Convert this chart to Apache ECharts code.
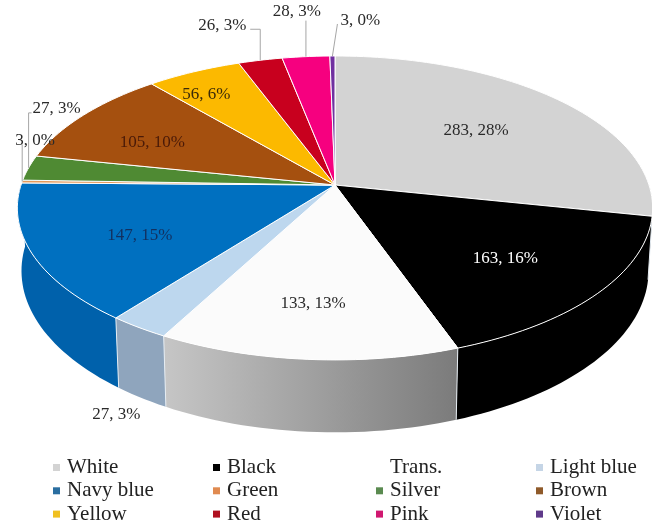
<!DOCTYPE html>
<html><head><meta charset="utf-8">
<style>html,body{margin:0;padding:0;background:#fff}#c{width:652px;height:527px}</style>
<script src="https://cdn.jsdelivr.net/npm/echarts@6/dist/echarts.min.js"></script>
</head><body><div id="c"></div>
<script>
const categories = ['White','Black','Trans.','Light blue','Navy blue','Green','Silver','Brown','Yellow','Red','Pink','Violet'];
const values = [283,163,133,27,147,3,27,105,56,26,28,3];
const topColors = ['#d3d3d3','#000000','#fbfbfb','#bdd7ee','#0070c0','#e59a5c','#4f8a33','#a5500f','#fcb900','#c8001e','#f6007f','#7030a0'];
const wallColors = ['#a9a9a9','#000000',null,'#8fa5bd','#0061ab','#b87a48','#3f6e29','#84400c','#ca9400','#a00018','#c50066','#5a2680'];
const legendColors = ['#d3d3d3','#000000','#ffffff','#c5d5e6','#2a6ea0','#e08a50','#5a8a50','#8f5a2a','#f0c020','#b01020','#d01870','#5f3a8a'];
const labelColors = ['#2a2a2a','#ffffff','#2a2a2a','#2a2a2a','#12305f','#2a2a2a','#2a2a2a','#4a1a08','#3a2a08','#2a2a2a','#2a2a2a','#2a2a2a'];
const legendColumns = [[0,4,8],[1,5,9],[2,6,10],[3,7,11]];

/* layout of the tilted disc */
const CX=335, CY=185, RX=314, RY=148.5, K=0.151, DEPTH=61.5, SHRINK=0.987;
/* label placement relative to the slice's computed anchor (px) */
const labelOffset = [[-8,3],[6,6],[-5,12],[-25,17],[-3,7],[13,-41],[28,-59],[-15,4],[-33,-14],[-38,-35],[-9,-45],[28,-35]];
const labelOnRim = [false,false,false,true,false,true,true,false,false,true,true,true];
const leaders = {5:[[0,-37]],6:[[0,-55],[3,-55]],9:[[0,-31],[-10,-31]],10:[[0,-36]],11:[[5,-32]]};

const total = values.reduce((a,b)=>a+b,0);
const starts = []; values.reduce((a,v,i)=>{starts[i]=a;return a+v;},0);
const rad = d=>d*Math.PI/180;
function project(deg,r){
  const X=r*Math.sin(rad(deg)), Y=-r*Math.cos(rad(deg)), w=1-K*Y;
  return {x:CX+RX*X/w, y:CY+RY*Y/w, w};
}
function bottom(deg){
  const p=project(deg,1);
  return [CX+(p.x-CX)*SHRINK, p.y+DEPTH/p.w];
}
function arc(a0,a1){
  const n=Math.max(2,Math.ceil((a1-a0)/1.5)), out=[];
  for(let i=0;i<=n;i++) out.push(a0+(a1-a0)*i/n);
  return out;
}
function renderSlice(i){
  return function(params,api){
    const v=api.value(0);
    const a0=starts[i]/total*360, a1=a0+v/total*360, mid=(a0+a1)/2;
    const children=[];
    const w0=Math.max(a0,90), w1=Math.min(a1,270);
    if(w1>w0){
      const as=arc(w0,w1);
      const pts=as.map(d=>{const p=project(d,1);return [p.x,p.y];}).concat(as.slice().reverse().map(bottom));
      const fill = wallColors[i]===null
        ? new echarts.graphic.LinearGradient(0,0,1,0,[{offset:0,color:'#c6c6c6'},{offset:1,color:'#7b7b7b'}])
        : wallColors[i];
      children.push({type:'polygon',z2:1,silent:true,shape:{points:pts},style:{fill}});
      if(w0===a0){
        const p=project(a0,1);
        children.push({type:'polyline',z2:1.5,silent:true,shape:{points:[[p.x,p.y],bottom(a0)]},style:{fill:null,stroke:'#e6edf3',lineWidth:1}});
      }
    }
    const top=[[CX,CY]].concat(arc(a0,a1).map(d=>{const p=project(d,1);return [p.x,p.y];}));
    children.push({type:'polygon',z2:2,silent:true,shape:{points:top},style:{fill:topColors[i],stroke:'#ffffff',lineWidth:1}});
    const anchor=project(mid,labelOnRim[i]?1:0.65);
    if(leaders[i]){
      const line=[[anchor.x,anchor.y]].concat(leaders[i].map(o=>[anchor.x+o[0],anchor.y+o[1]]));
      children.push({type:'polyline',z2:3,silent:true,shape:{points:line},style:{fill:null,stroke:'#a6a6a6',lineWidth:1}});
    }
    const pos = i===3 ? (p=>({x:p[0],y:p[1]}))(bottom(mid)) : anchor;
    children.push({type:'text',z2:4,silent:true,x:pos.x+labelOffset[i][0],y:pos.y+labelOffset[i][1],
      style:{text:v+', '+Math.round(v/total*100)+'%',fill:labelColors[i],font:'17px "Liberation Serif"',align:'center',verticalAlign:'middle'}});
    return {type:'group',children};
  };
}
const chart=echarts.init(document.getElementById('c'),null,{renderer:'canvas'});
const legendLeft=[53,213,376,536];
chart.setOption({
  animation:false,
  backgroundColor:'#fff',
  legend:legendColumns.map((col,c)=>({
    orient:'vertical',left:legendLeft[c],top:457,padding:0,itemGap:2.3,itemWidth:7,itemHeight:7,icon:'rect',selectedMode:false,
    textStyle:{fontFamily:'"Liberation Serif"',fontSize:21,color:'#222',padding:[0,0,0,2]},
    data:col.map(i=>({name:categories[i],itemStyle:{color:legendColors[i]}}))
  })),
  series:categories.map((name,i)=>({
    type:'custom',name,coordinateSystem:'none',itemStyle:{color:topColors[i]},
    data:[[values[i]]],renderItem:renderSlice(i),clip:false
  }))
});
</script></body></html>
